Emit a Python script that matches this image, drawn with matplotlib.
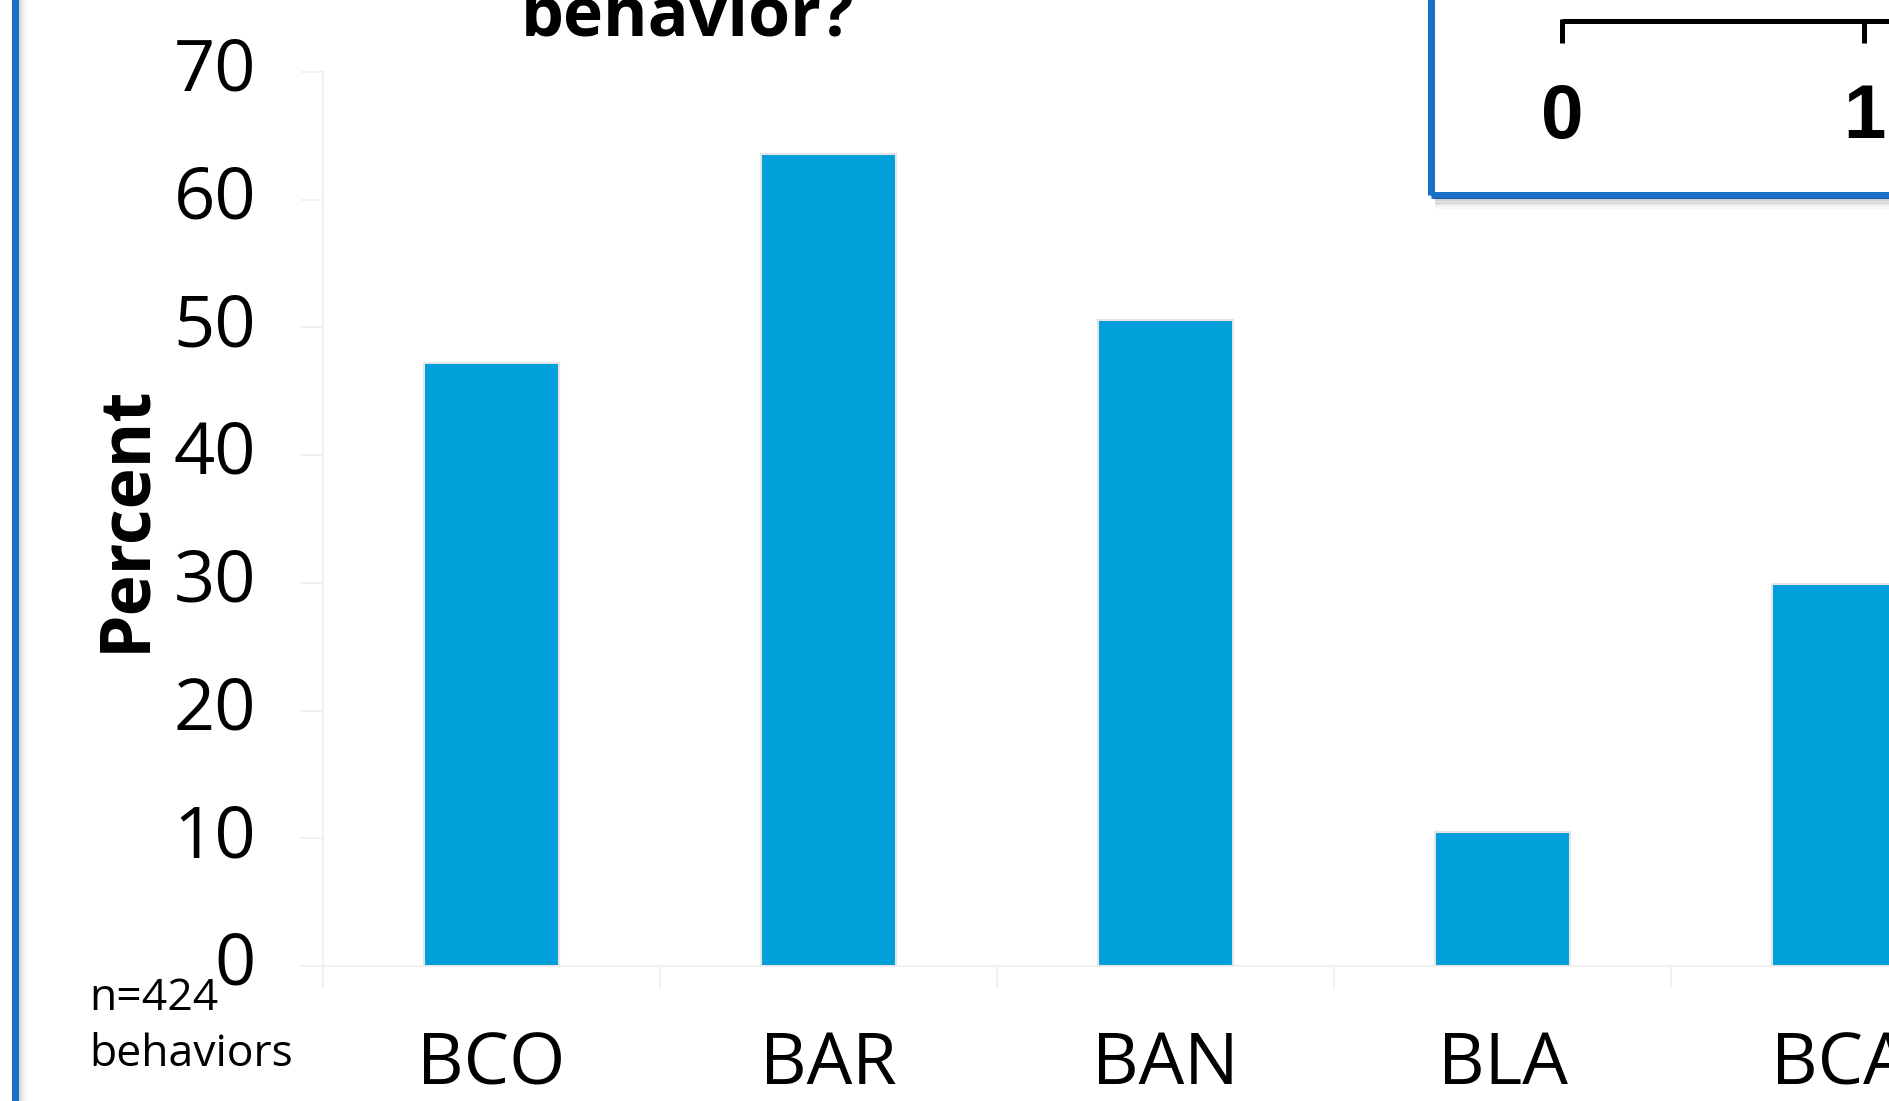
import matplotlib
matplotlib.use('Agg')
import matplotlib.pyplot as plt
from matplotlib.patches import Rectangle
from matplotlib.lines import Line2D
import numpy as np

categories = ['BCO', 'BAR', 'BAN', 'BLA', 'BCA']
percent = [47.2, 63.6, 50.6, 10.5, 29.9]
y_ticks = [0, 10, 20, 30, 40, 50, 60, 70]
inset_ticks = [0, 1]
inset_labels = ['0', '1']

plt.rcParams['font.family'] = ['Open Sans', 'DejaVu Sans']

W, H = 1889, 1101
fig = plt.figure(figsize=(W / 100, H / 100), dpi=100)
fig.patch.set_facecolor('white')


def fx(px):
    return px / W


def fy(py):
    return 1 - py / H


PT = 72 / 100  # points per pixel

ax = fig.add_axes([fx(323), fy(966), 1 - fx(323), fy(72) - fy(966)])
x = np.arange(len(categories))
ax.bar(x, percent, width=0.4, color='#009fda', edgecolor='#e4e4e4',
       linewidth=1.5, zorder=3)

for s in ['top', 'right']:
    ax.spines[s].set_visible(False)
for s in ['left', 'bottom']:
    ax.spines[s].set_color('#eeeeee')
    ax.spines[s].set_linewidth(1.2)

ax.set_yticks(y_ticks)
ax.set_yticklabels([str(v) for v in y_ticks])
ax.tick_params(axis='y', length=22 * PT, width=1.2, color='#eeeeee',
               pad=45 * PT, labelsize=52)
for t in ax.get_yticklabels():
    t.set_va('center')

ax.set_xticks(np.arange(-0.5, len(categories) + 0.5, 1))
ax.set_xticklabels([])
ax.tick_params(axis='x', which='major', length=22 * PT, width=1.2,
               color='#eeeeee')
ax.set_xticks(x, minor=True)
ax.set_xticklabels(categories, minor=True)
ax.tick_params(axis='x', which='minor', length=0, pad=64 * PT, labelsize=52)

ax.set_xlim(-0.5, -0.5 + (W - 323) / 337)
ax.set_ylim(0, 70)

fig.text(fx(126), fy(518), 'Percent', rotation=90, fontweight='bold',
         fontsize=50, ha='center', va='center')

fig.text(fx(89), fy(1010), 'n=424', fontsize=32, va='baseline', ha='left')
fig.text(fx(89), fy(1066), 'behaviors', fontsize=32, va='baseline', ha='left')

fig.text(fx(688), fy(36), 'behavior?', ha='center', va='baseline',
         fontweight='bold', fontsize=49)

# inset frame (cropped)
for i, a in enumerate([0.18, 0.12, 0.07, 0.03]):
    fig.add_artist(Line2D([fx(1434 + 2), 1.01], [fy(199 + i * 2.5)] * 2,
                          transform=fig.transFigure, color='black',
                          alpha=a, lw=3 * PT))
fig.add_artist(Rectangle((fx(1431), fy(195)), 1.2, 1.2,
                         transform=fig.transFigure, fill=False,
                         edgecolor='#1a6fc6', lw=7 * PT))

# inset axis
inset_px = [1562, 1864]
fig.add_artist(Line2D([fx(inset_px[0]), 1.01], [fy(21), fy(21)],
                      transform=fig.transFigure, color='black', lw=5 * PT,
                      solid_capstyle='butt'))
for px, lab in zip(inset_px, inset_labels):
    fig.add_artist(Line2D([fx(px), fx(px)], [fy(19), fy(43)],
                          transform=fig.transFigure, color='black',
                          lw=5 * PT, solid_capstyle='butt'))
    fig.text(fx(px), fy(138), lab, ha='center', va='baseline',
             family=['Liberation Sans', 'DejaVu Sans'], fontweight='bold',
             fontsize=55)

# left slide edge with shadow
for i, a in enumerate([0.16, 0.10, 0.05, 0.02]):
    fig.add_artist(Line2D([fx(20 + i * 2)] * 2, [0, 1],
                          transform=fig.transFigure, color='black',
                          alpha=a, lw=2 * PT))
fig.add_artist(Line2D([fx(15), fx(15)], [0, 1], transform=fig.transFigure,
                      color='#1a6fc6', lw=7 * PT))

fig.savefig('out.png', dpi=100)
